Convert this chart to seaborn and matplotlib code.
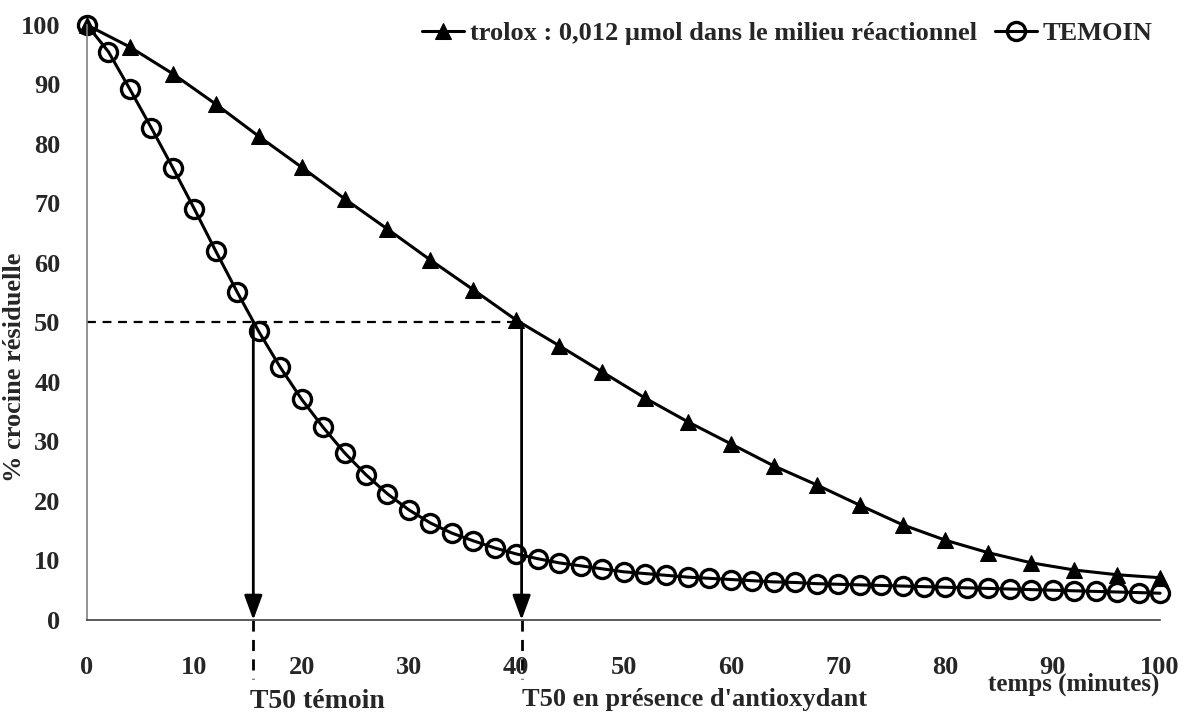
import matplotlib
matplotlib.use("Agg")
import matplotlib.pyplot as plt
import seaborn as sns
import pandas as pd

# ---- data ----
temoin_t = list(range(0, 101, 2))
temoin_v = [100, 95.5, 89.2, 82.7, 76.0, 69.1, 62.0, 55.1, 48.5, 42.5,
            37.1, 32.4, 28.1, 24.4, 21.2, 18.5, 16.3, 14.6, 13.3, 12.1,
            11.1, 10.3, 9.6, 9.1, 8.6, 8.1, 7.8, 7.5, 7.2, 7.0,
            6.8, 6.6, 6.4, 6.3, 6.1, 6.0, 5.9, 5.8, 5.7, 5.6,
            5.5, 5.4, 5.3, 5.2, 5.1, 5.0, 4.9, 4.8, 4.7, 4.6, 4.5]
trolox_t = list(range(0, 101, 4))
trolox_v = [100, 96.3, 91.8, 86.7, 81.3, 76.1, 70.8, 65.7, 60.5, 55.5,
            50.4, 46.1, 41.7, 37.3, 33.3, 29.6, 25.9, 22.7, 19.3, 16.0,
            13.4, 11.3, 9.6, 8.4, 7.6, 7.1]
t50_temoin = 15.5
t50_trolox = 40.5
x_ticks = [0, 10, 20, 30, 40, 50, 60, 70, 80, 90, 100]
y_ticks = [0, 10, 20, 30, 40, 50, 60, 70, 80, 90, 100]
label_trolox = "trolox : 0,012 µmol dans le milieu réactionnel"
label_temoin = "TEMOIN"

sns.set_style("white")
plt.rcParams['font.family'] = ['Liberation Serif', 'DejaVu Serif']
plt.rcParams['font.weight'] = 'bold'

fig = plt.figure(figsize=(11.85, 7.14), dpi=100)
ax = fig.add_axes([0.0734, 0.1317, 0.9056, 0.8333])

df_tr = pd.DataFrame({"t": trolox_t, "v": trolox_v})
df_te = pd.DataFrame({"t": temoin_t, "v": temoin_v})

sns.lineplot(data=df_tr, x="t", y="v", ax=ax, color="black", lw=2.2,
             marker="^", markersize=11, markerfacecolor="black",
             markeredgecolor="black", label=label_trolox, clip_on=False)
sns.lineplot(data=df_te, x="t", y="v", ax=ax, color="black", lw=2.2,
             marker="o", markersize=13, markerfacecolor="none",
             markeredgecolor="black", markeredgewidth=2.4,
             label=label_temoin, clip_on=False)

ax.set_xlim(0, 100)
ax.set_ylim(0, 100)
ax.set_xticks(x_ticks)
ax.set_yticks(y_ticks)
ax.tick_params(axis='x', direction='out', length=9, width=1, color='#555555',
               pad=17, labelsize=19)
ax.tick_params(axis='y', direction='out', length=9, width=1, color='#555555',
               pad=10, labelsize=19)
for lab in ax.get_xticklabels() + ax.get_yticklabels():
    lab.set_fontweight('bold')

for s in ['top', 'right']:
    ax.spines[s].set_visible(False)
ax.spines['left'].set_color('#808080')
ax.spines['bottom'].set_color('#404040')
for s in ['left', 'bottom']:
    ax.spines[s].set_linewidth(1.2)

ax.set_xlabel("")
ax.set_ylabel("")
fig.text(0.012, 0.486, "% crocine résiduelle", fontsize=19, fontweight='bold',
         rotation=90, ha='center', va='center')

# dashed horizontal line at 50%
ax.plot([0, t50_trolox], [50, 50], ls=(0, (4, 3)), color='black', lw=1.6)
# arrows
for xv in [t50_temoin, t50_trolox]:
    ax.annotate("", xy=(xv, 0), xytext=(xv, 50),
                arrowprops=dict(arrowstyle='-|>,head_length=1.5,head_width=0.55',
                                color='black', lw=2.0, shrinkA=0, shrinkB=0))
    ax.plot([xv, xv], [0, -10], ls=(0, (4, 3)), color='black', lw=2.0,
            clip_on=False)

ax.text(t50_temoin - 0.3, -14.8, "T50 témoin", fontsize=20, fontweight='bold',
        ha='left', va='baseline')
ax.text(t50_trolox, -14.5, "T50 en présence d'antioxydant", fontsize=19,
        fontweight='bold', ha='left', va='baseline')
ax.text(91.9, -11.9, "temps (minutes)", fontsize=18, fontweight='bold',
        ha='center', va='baseline')

leg = ax.legend(loc='upper right', bbox_to_anchor=(1.015, 1.045), frameon=False,
                ncol=2, fontsize=19, handlelength=1.6, columnspacing=0.7,
                handletextpad=0.2)
for t in leg.get_texts():
    t.set_fontweight('bold')

fig.savefig("out.png", dpi=100)
